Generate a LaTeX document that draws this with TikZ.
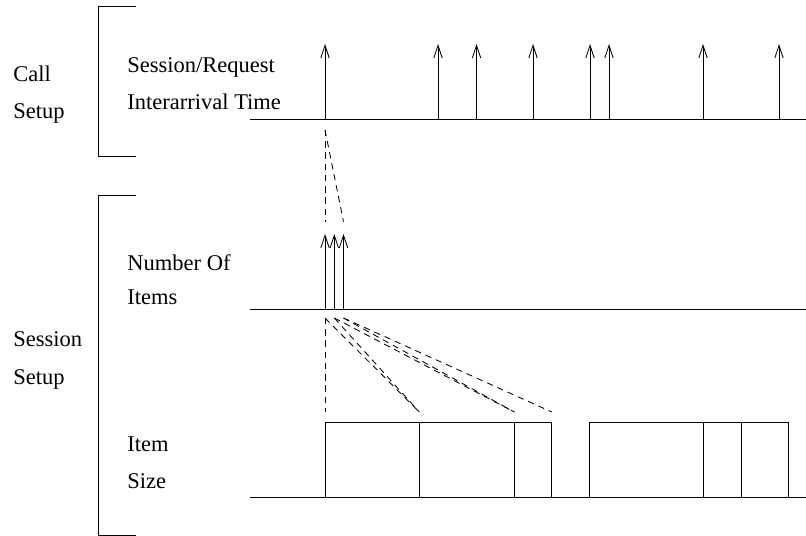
\documentclass[tikz,border=0pt]{standalone}
\usepackage{fontspec}
\setmainfont{Liberation Serif}
\usetikzlibrary{arrows.meta}

\begin{document}
\begin{tikzpicture}[x=0.025cm,y=-0.025cm]
\useasboundingbox (0,0) rectangle (806,536);
% Draw arrival timeline
   \begin{scope}[ >={Straight Barb[length=9pt,width=6pt]}, line width=0.6pt,
                   lbl/.style={anchor=base west,inner sep=0pt,font=\fontsize{16}{19}\selectfont},
                   link/.style={dash pattern=on 4.5pt off 3.5pt} ]
     \node [lbl] (call1)  at (13,82)     {Call};
     \node [lbl] (call2)  at (13,119)    {Setup};
     \node [lbl] (sess1)  at (13,347)    {Session};
     \node [lbl] (sess2)  at (13,384)    {Setup};
     \node [lbl] (req1)   at (127,72.7)  {Session/Request};
     \node [lbl] (req2)   at (127,110)   {Interarrival Time};
     \node [lbl] (num1)   at (127,270.7) {Number Of};
     \node [lbl] (num2)   at (127,305)   {Items};
     \node [lbl] (size1)  at (127,451)   {Item};
     \node [lbl] (size2)  at (127,488)   {Size};
     % brackets
     \draw (136,6) -| (98.7,156) -- (136,156);
     \draw (136,195) -| (98.7,535.3) -- (136,535.3);
     % time axes
     \coordinate (right) at (806,0);
     \coordinate (l1) at (250,119.3);
     \coordinate (l2) at (250,309.3);
     \coordinate (l3) at (250,497.7);
     \draw (l1) -- (l1 -| right);
     \draw (l2) -- (l2 -| right);
     \draw (l3) -- (l3 -| right);
     % session arrivals
     \coordinate (top) at (0,44);
     \coordinate (a1) at (325,119.3);   \draw [->] (a1) -- (a1 |- top);
     \coordinate (a2) at (438,119.3);   \draw [->] (a2) -- (a2 |- top);
     \coordinate (a3) at (476.5,119.3); \draw [->] (a3) -- (a3 |- top);
     \coordinate (a4) at (533,119.3);   \draw [->] (a4) -- (a4 |- top);
     \coordinate (a5) at (590,119.3);   \draw [->] (a5) -- (a5 |- top);
     \coordinate (a6) at (609,119.3);   \draw [->] (a6) -- (a6 |- top);
     \coordinate (a7) at (703,119.3);   \draw [->] (a7) -- (a7 |- top);
     \coordinate (a8) at (779,119.3);   \draw [->] (a8) -- (a8 |- top);
     % items of first session
     \coordinate (itop) at (0,234);
     \coordinate (n1) at (325,309.3);   \draw [->] (n1) -- (n1 |- itop);
     \coordinate (n2) at (334.3,309.3); \draw [->] (n2) -- (n2 |- itop);
     \coordinate (n3) at (343.5,309.3); \draw [->] (n3) -- (n3 |- itop);
     \coordinate (s1) at (0,130);
     \coordinate (e1) at (0,221.7);
     \draw [link] (a1 |- s1) -- (n1 |- e1);
     \draw [link] (a1 |- s1) -- (n3 |- e1);
     % item sizes
     \coordinate (k0) at (325,422.5);
     \coordinate (k1) at (419.3,422.5);
     \coordinate (k2) at (514.3,422.5);
     \coordinate (k3) at (551.7,422.5);
     \coordinate (k4) at (589.3,422.5);
     \coordinate (k5) at (703.3,422.5);
     \coordinate (k6) at (741,422.5);
     \coordinate (k7) at (788.3,422.5);
     \draw (k0) rectangle (k1 |- l3);
     \draw (k1) rectangle (k2 |- l3);
     \draw (k2) rectangle (k3 |- l3);
     \draw (k4) rectangle (k5 |- l3);
     \draw (k5) rectangle (k6 |- l3);
     \draw (k6) rectangle (k7 |- l3);
     \coordinate (s2) at (0,318);
     \coordinate (e2) at (0,412);
     \draw [link] (n1 |- s2) -- (k0 |- e2);
     \draw [link] (n1 |- s2) -- (k1 |- e2);
     \draw [link] (n2 |- s2) -- (k1 |- e2);
     \draw [link] (n2 |- s2) -- (k2 |- e2);
     \draw [link] (n3 |- s2) -- (k2 |- e2);
     \draw [link] (n3 |- s2) -- (k3 |- e2);
   \end{scope}
\end{tikzpicture}
\end{document}
